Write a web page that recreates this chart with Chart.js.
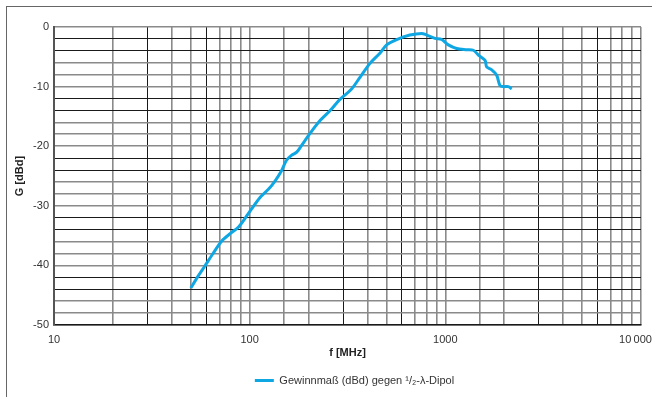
<!DOCTYPE html>
<html>
<head>
<meta charset="utf-8">
<script src="https://cdn.jsdelivr.net/npm/chart.js@4/dist/chart.umd.min.js"></script>
<style>
  html, body { margin: 0; padding: 0; background: #fff; }
  #wrap { position: relative; width: 652px; height: 397px; overflow: hidden; }
  #frame { position: absolute; left: 6px; top: 6px; width: 700px; height: 420px; border: 1.5px solid #666; box-sizing: border-box; pointer-events: none; }
  canvas { position: absolute; left: 0; top: 0; }
</style>
</head>
<body>
<div id="wrap">
  <canvas id="chart" width="652" height="397"></canvas>
  <div id="frame"></div>
</div>
<script>
// frequency in MHz, gain in dBd
const freq = [50, 54, 59, 65, 72, 80, 88, 98, 113, 125, 135, 145, 154, 164, 174, 184, 203, 229, 260, 290, 330, 367, 412, 463, 501, 564, 659, 757, 803, 886, 958, 1036, 1143, 1286, 1391, 1475, 1596, 1626, 1726, 1830, 1901, 1977, 2099, 2183];
const gain = [-43.8, -42.0, -40.1, -38.0, -35.9, -34.6, -33.5, -31.4, -28.6, -27.2, -25.8, -24.2, -22.4, -21.5, -21.0, -19.9, -17.9, -15.7, -13.9, -12.1, -10.5, -8.4, -6.1, -4.4, -3.0, -2.1, -1.35, -1.07, -1.35, -1.9, -2.1, -3.0, -3.6, -3.8, -3.9, -4.7, -5.6, -6.7, -7.2, -8.1, -9.8, -10.0, -10.0, -10.4];
// last label carries a trailing em space so it stays inside the frame
const xTickLabels = { 10: '10', 100: '100', 1000: '1000', 10000: '10\u2009000\u2003' };
const seriesName = 'Gewinnmaß (dBd) gegen \u00B9/\u2082-\u03BB-Dipol';

const DARK = '#1a1a1a';
const GREY = '#8a8a8a';
const LINE = '#0ea7e4';

Chart.defaults.font.family = '"Liberation Sans", Arial, sans-serif';
Chart.defaults.font.size = 11;
Chart.defaults.color = '#333';

function isDarkX(v) {
    let s = Math.round(v / Math.pow(10, Math.floor(Math.log10(v) + 1e-9)));
    return s === 3 || s === 6;
}
function isDarkY(v) {
    let m = Math.abs(Math.round(v)) % 10;
    return m === 2 || m === 4;
}

// shift the legend so it sits under the plot like in the picture
const legendShift = {
    id: 'legendShift',
    afterLayout(chart) {
        chart.legend.left += 34;
        chart.legend.right += 34;
    }
};

new Chart(document.getElementById('chart'), {
    type: 'line',
    data: {
        datasets: [{
            label: seriesName,
            data: freq.map((f, i) => ({ x: f, y: gain[i] })),
            borderColor: LINE,
            backgroundColor: LINE,
            borderWidth: 3,
            pointRadius: 0,
            tension: 0.3,
            fill: false
        }]
    },
    options: {
        responsive: false,
        animation: false,
        layout: { padding: { left: 0, top: 27, right: 11, bottom: 1 } },
        plugins: {
            tooltip: { enabled: false },
            legend: {
                position: 'bottom',
                labels: {
                    boxWidth: 19,
                    boxHeight: 3,
                    padding: 10,
                    color: '#333',
                    generateLabels(chart) {
                        let items = Chart.defaults.plugins.legend.labels.generateLabels(chart);
                        items.forEach(it => { it.lineWidth = 0; });
                        return items;
                    }
                }
            }
        },
        scales: {
            x: {
                type: 'logarithmic',
                min: 10,
                max: 10000,
                afterFit(scale) {
                    scale.height = 40;
                    scale.paddingLeft = 0;
                    scale.paddingRight = 0;
                },
                ticks: {
                    autoSkip: false,
                    maxRotation: 0,
                    padding: 8,
                    color: '#333',
                    callback: (v) => xTickLabels[v] || ''
                },
                grid: {
                    drawTicks: false,
                    color: (c) => c.tick && isDarkX(c.tick.value) ? DARK : GREY,
                    lineWidth: (c) => c.tick && isDarkX(c.tick.value) ? 1 : 1.6
                },
                border: { color: DARK, width: 1.5 },
                title: {
                    display: true,
                    text: 'f [MHz]',
                    color: '#222',
                    font: { weight: 'bold', size: 11 },
                    padding: { top: 0, bottom: 5 }
                }
            },
            y: {
                min: -50,
                max: 0,
                afterFit(scale) {
                    scale.width = 54;
                },
                ticks: {
                    stepSize: 2,
                    autoSkip: false,
                    padding: 5,
                    color: '#333',
                    callback: (v) => (v % 10 === 0 ? String(v) : '')
                },
                grid: {
                    drawTicks: false,
                    color: (c) => c.tick && isDarkY(c.tick.value) ? DARK : GREY,
                    lineWidth: (c) => c.tick && isDarkY(c.tick.value) ? 1 : 1.6
                },
                border: { color: '#555', width: 2 },
                title: {
                    display: true,
                    text: 'G [dBd]',
                    color: '#222',
                    font: { weight: 'bold', size: 11 },
                    padding: { top: 13, bottom: 0 }
                }
            }
        }
    },
    plugins: [legendShift]
});
</script>
</body>
</html>
